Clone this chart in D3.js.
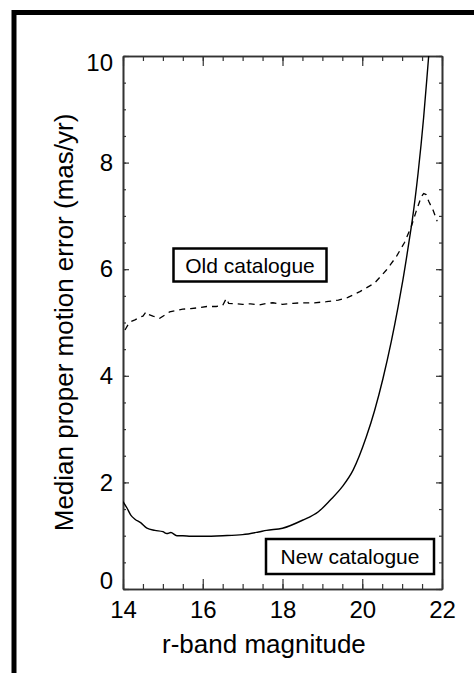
<!DOCTYPE html>
<html>
<head>
<meta charset="utf-8">
<script src="https://cdn.jsdelivr.net/npm/d3@7"></script>
<style>
  html, body { margin: 0; padding: 0; background: #fff; }
  svg { display: block; }
  text { font-family: "Liberation Sans", Arial, Helvetica, sans-serif; fill: #000; }
</style>
</head>
<body>
<svg id="chart" width="474" height="673"></svg>
<script>
// ---- data ----
const newMag = [14.0, 14.1, 14.2, 14.3, 14.45, 14.6, 14.8, 15.0, 15.1, 15.2, 15.35, 15.5, 15.7, 16.0, 16.5, 17.0, 17.4, 17.6, 18.0, 18.5, 18.9, 19.2, 19.5, 19.77, 20.1, 20.31, 20.52, 20.73, 20.9, 21.02, 21.19, 21.26, 21.4, 21.54, 21.65, 21.72];
const newErr = [1.64, 1.52, 1.38, 1.31, 1.24, 1.14, 1.1, 1.075, 1.04, 1.06, 1.0, 1.0, 0.99, 0.99, 1.0, 1.02, 1.07, 1.1, 1.14, 1.29, 1.45, 1.67, 1.92, 2.23, 2.85, 3.35, 3.95, 4.65, 5.3, 5.8, 6.6, 6.95, 7.8, 8.85, 9.85, 10.5];

const oldMag = [14.05, 14.12, 14.17, 14.3, 14.42, 14.5, 14.58, 14.65, 14.75, 14.85, 14.92, 15.05, 15.17, 15.3, 15.5, 15.7, 15.92, 16.1, 16.34, 16.5, 16.59, 16.65, 16.84, 17.0, 17.2, 17.42, 17.6, 17.76, 18.0, 18.26, 18.5, 18.8, 19.1, 19.4, 19.64, 19.94, 20.31, 20.6, 20.85, 21.06, 21.23, 21.35, 21.48, 21.54, 21.6, 21.67, 21.78, 21.88];
const oldErr = [4.86, 4.95, 5.01, 5.05, 5.1, 5.12, 5.2, 5.15, 5.12, 5.1, 5.08, 5.14, 5.2, 5.22, 5.25, 5.26, 5.28, 5.3, 5.3, 5.32, 5.45, 5.36, 5.35, 5.34, 5.35, 5.33, 5.36, 5.37, 5.34, 5.36, 5.37, 5.37, 5.39, 5.42, 5.47, 5.58, 5.74, 5.98, 6.23, 6.5, 6.8, 7.08, 7.36, 7.42, 7.4, 7.27, 7.1, 6.9];

const xMajor = [14, 16, 18, 20, 22];
const xMinor = d3.range(14, 22.01, 0.5);
const yMajor = [0, 2, 4, 6, 8, 10];
const yMinor = d3.range(0, 10.01, 0.5);

const xTitle = "r-band magnitude";
const yTitle = "Median proper motion error (mas/yr)";
const labelOld = "Old catalogue";
const labelNew = "New catalogue";

// ---- layout ----
const svg = d3.select("#chart");
const L = 123, R = 442, T = 56, B = 589;
const x = d3.scaleLinear().domain([14, 22]).range([L, R]);
const y = d3.scaleLinear().domain([0, 10]).range([B, T]);

// outer frame
svg.append("rect")
  .attr("x", 14).attr("y", 12.5).attr("width", 520).attr("height", 720)
  .attr("fill", "none").attr("stroke", "#000").attr("stroke-width", 5);

const axisColor = "#333";
function styleAxis(g) {
  g.selectAll("path.domain").attr("stroke", axisColor).attr("stroke-width", 1.6);
  g.selectAll(".tick line").attr("stroke", axisColor).attr("stroke-width", 1.2);
  g.selectAll("text").attr("font-size", 24).attr("fill", "#000")
    .attr("font-family", '"Liberation Sans", Arial, sans-serif');
}

// bottom
svg.append("g").attr("transform", `translate(0,${B})`)
  .call(d3.axisBottom(x).tickValues(xMinor).tickSizeInner(-5).tickSizeOuter(0).tickFormat(""))
  .call(styleAxis);
svg.append("g").attr("transform", `translate(0,${B})`)
  .call(d3.axisBottom(x).tickValues(xMajor).tickSizeInner(-10).tickSizeOuter(0).tickPadding(12).tickFormat(d3.format("d")))
  .call(styleAxis);
// top
svg.append("g").attr("transform", `translate(0,${T})`)
  .call(d3.axisTop(x).tickValues(xMinor).tickSizeInner(-5).tickSizeOuter(0).tickFormat(""))
  .call(styleAxis);
svg.append("g").attr("transform", `translate(0,${T})`)
  .call(d3.axisTop(x).tickValues(xMajor).tickSizeInner(-10).tickSizeOuter(0).tickFormat(""))
  .call(styleAxis);
// left
svg.append("g").attr("transform", `translate(${L},0)`)
  .call(d3.axisLeft(y).tickValues(yMinor).tickSizeInner(-3).tickSizeOuter(0).tickFormat(""))
  .call(styleAxis);
const yl = svg.append("g").attr("transform", `translate(${L},0)`)
  .call(d3.axisLeft(y).tickValues(yMajor).tickSizeInner(-6).tickSizeOuter(0).tickPadding(10).tickFormat(d3.format("d")))
  .call(styleAxis);
yl.selectAll(".tick text").attr("dy", d => d === 0 ? "-0.02em" : (d === 10 ? "0.62em" : "0.32em"));
// right
svg.append("g").attr("transform", `translate(${R},0)`)
  .call(d3.axisRight(y).tickValues(yMinor).tickSizeInner(-3).tickSizeOuter(0).tickFormat(""))
  .call(styleAxis);
svg.append("g").attr("transform", `translate(${R},0)`)
  .call(d3.axisRight(y).tickValues(yMajor).tickSizeInner(-6).tickSizeOuter(0).tickFormat(""))
  .call(styleAxis);

// clip
svg.append("clipPath").attr("id", "clip")
  .append("rect").attr("x", L).attr("y", T).attr("width", R - L).attr("height", B - T);

const line = d3.line().x(d => x(d[0])).y(d => y(d[1]));
const smooth = d3.line().x(d => x(d[0])).y(d => y(d[1])).curve(d3.curveMonotoneX);
const plot = svg.append("g").attr("clip-path", "url(#clip)");

plot.append("path")
  .datum(d3.zip(oldMag, oldErr))
  .attr("d", line).attr("fill", "none").attr("stroke", "#000")
  .attr("stroke-width", 1.3).attr("stroke-dasharray", "6,5");

plot.append("path")
  .datum(d3.zip(newMag, newErr))
  .attr("d", smooth).attr("fill", "none").attr("stroke", "#000")
  .attr("stroke-width", 1.4);

// legend boxes
function box(cx, cy, w, h, label) {
  svg.append("rect").attr("x", cx - w / 2).attr("y", cy - h / 2).attr("width", w).attr("height", h)
    .attr("fill", "#fff").attr("stroke", "#000").attr("stroke-width", 2.5);
  svg.append("text").attr("x", cx).attr("y", cy).attr("dy", "0.36em")
    .attr("text-anchor", "middle").attr("font-size", 21).text(label);
}
box(250, 265, 153, 33, labelOld);
box(350, 556.5, 168, 35, labelNew);

// titles
svg.append("text").attr("x", 162).attr("y", 653)
  .attr("text-anchor", "start").attr("font-size", 26).text(xTitle);
svg.append("text").attr("transform", `translate(73,${(T + B) / 2}) rotate(-90)`)
  .attr("text-anchor", "middle").attr("font-size", 26).text(yTitle);
</script>
</body>
</html>
